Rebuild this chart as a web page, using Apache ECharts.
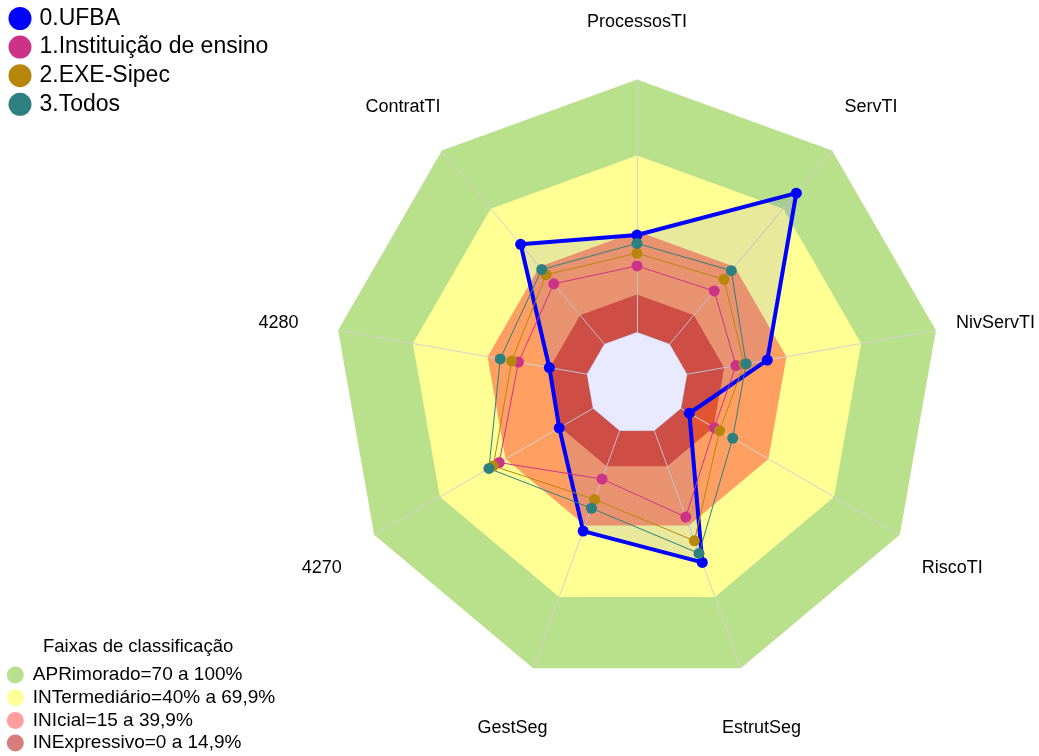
<!DOCTYPE html>
<html>
<head>
<meta charset="utf-8">
<title>Radar</title>
<script src="https://cdn.jsdelivr.net/npm/echarts@6/dist/echarts.min.js"></script>
<style>
  html, body { margin: 0; padding: 0; background: #fff; }
  #chart { width: 1039px; height: 756px; }
</style>
</head>
<body>
<div id="chart"></div>
<script>
// indicators, counter-clockwise from the top (same as fmsb)
const indicatorNames = ['ProcessosTI', 'ContratTI', '4280', '4270', 'GestSeg', 'EstrutSeg', 'RiscoTI', 'NivServTI', 'ServTI'];

const groupNames = ['0.UFBA', '1.Instituição de ensino', '2.EXE-Sipec', '3.Todos'];
const ufba       = [38.5, 51.6, 15.2, 15.5, 42.3, 55.5, 3.9, 32.3, 78];
const instEnsino = [26.3, 31.2, 27.6, 42.9, 20.4, 36.4, 15.3, 19.7, 27.5];
const exeSipec   = [31.3, 35.9, 30.3, 45.6, 29, 46.4, 17.7, 23, 33.5];
const todos      = [35.2, 38.6, 34.9, 47.6, 32.7, 51.7, 23.7, 23.8, 38];

// faixas: upper limit of each band
const bandNames = ['APRimorado=70 a 100%', 'INTermediário=40% a 69,9%', 'INIcial=15 a 39,9%', 'INExpressivo=0 a 14,9%'];
const bandLevels = [100, 70, 40, 15];
const centerLevel = 0;
const axisMin = -20;   // leaves the hole in the middle
const axisMax = 100;

const groupColors = ['#0000FF', '#CC3388', '#B8860B', '#2E8080'];
const bandFill = ['#B9E08B', '#FFFF93', '#FFA062', '#E25533'];
const bandLegend = ['#B8E08C', '#FFFF99', '#FF9E9E', '#D87C7C'];

const font = 'Liberation Sans, Arial, sans-serif';
const ring = v => indicatorNames.map(() => v);

const chart = echarts.init(document.getElementById('chart'));

const series = [];
bandLevels.forEach((lv, i) => {
  series.push({
    type: 'radar', z: 1, silent: true, symbol: 'none',
    lineStyle: { opacity: 0 },
    itemStyle: { color: bandLegend[i] },
    areaStyle: { color: bandFill[i], opacity: 1 },
    data: [{ name: bandNames[i], value: ring(lv) }]
  });
});
series.push({
  type: 'radar', z: 3, silent: true, symbol: 'none',
  lineStyle: { color: '#C4C4CC', width: 1 },
  areaStyle: { color: '#FFFFFF', opacity: 1 },
  data: [{ name: 'centro', value: ring(centerLevel) }]
});
[ufba, instEnsino, exeSipec, todos].forEach((vals, i) => {
  const s = {
    type: 'radar', z: i === 0 ? 4 : 5, symbol: 'circle', symbolSize: 11,
    lineStyle: { width: i === 0 ? 4 : 1, color: groupColors[i] },
    itemStyle: { color: groupColors[i] },
    data: [{ name: groupNames[i], value: vals }]
  };
  if (i === 0) s.areaStyle = { color: 'rgba(0,0,255,0.12)' };
  series.push(s);
});
// indicator names, centred at 1.2 x radius
series.push({
  type: 'radar', radarIndex: 1, z: 6, silent: true, symbol: 'circle', symbolSize: 0,
  lineStyle: { opacity: 0 },
  itemStyle: { color: 'rgba(0,0,0,0)' },
  label: {
    show: true, position: 'inside', offset: [0, 3], color: '#000', fontSize: 18, fontFamily: font,
    formatter: p => indicatorNames[p.dimensionIndex]
  },
  data: [{ name: 'nomes', value: ring(axisMax) }]
});

chart.setOption({
  animation: false,
  textStyle: { fontFamily: font },
  title: {
    text: 'Faixas de classificação', left: 43, top: 637, padding: 0,
    textStyle: { fontSize: 18.5, fontWeight: 'normal', color: '#000', fontFamily: font }
  },
  legend: [{
    data: groupNames, orient: 'vertical', left: 8.5, top: 7, padding: 0,
    icon: 'circle', itemWidth: 23, itemHeight: 23, itemGap: 5.6,
    textStyle: { fontSize: 23, lineHeight: 23, color: '#000', padding: [0, 0, 0, 3] }
  }, {
    data: bandNames, orient: 'vertical', left: 6.8, top: 665.5, height: 150, padding: 0,
    icon: 'circle', itemWidth: 17, itemHeight: 17, itemGap: 3.7,
    textStyle: { fontSize: 19, lineHeight: 17, color: '#000', padding: [0, 0, 0, 4] }
  }],
  radar: [{
    center: [637, 383], radius: 303.5, shape: 'polygon', z: 2,
    indicator: indicatorNames.map(n => ({ name: n, min: axisMin, max: axisMax })),
    axisName: { show: false },
    axisLine: { lineStyle: { color: '#D2D2D2', width: 1 } },
    splitLine: { show: false },
    splitArea: { show: false }
  }, {
    center: [637, 383], radius: 364, shape: 'polygon',
    indicator: indicatorNames.map(n => ({ name: n, min: 0, max: axisMax })),
    axisName: { show: false },
    axisLine: { show: false },
    splitLine: { show: false },
    splitArea: { show: false }
  }],
  series: series
});
</script>
</body>
</html>
